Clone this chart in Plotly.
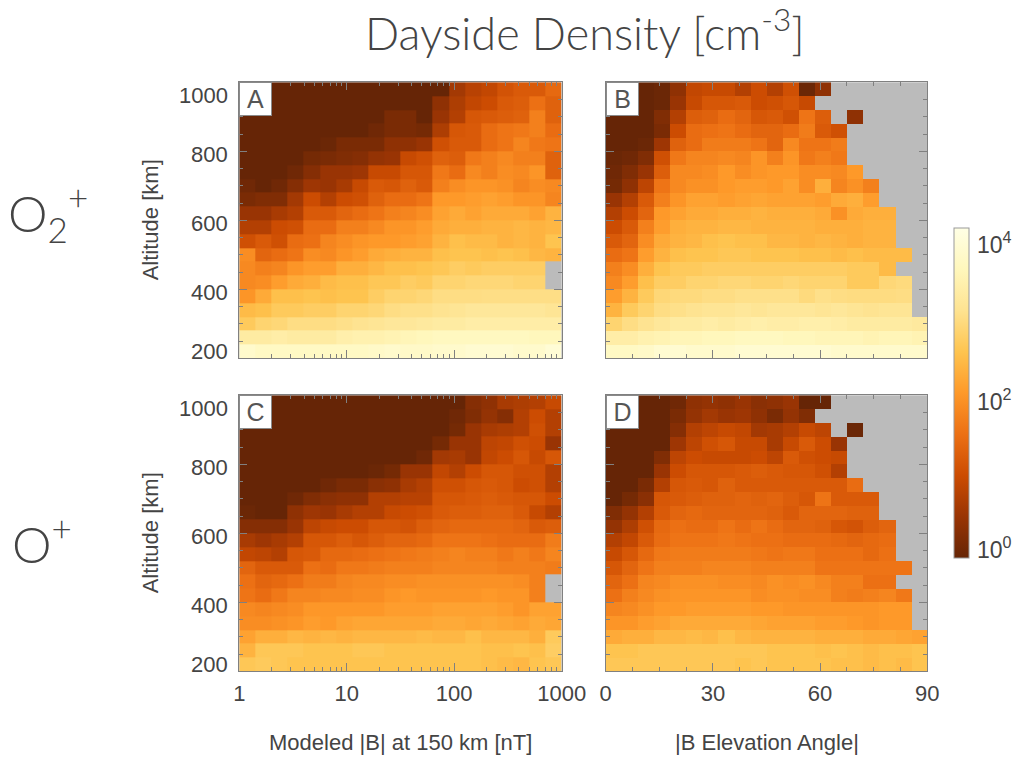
import plotly.graph_objects as go
from plotly.colors import sequential

N = None  # empty bin (no samples)

# ---- bin edges -------------------------------------------------------------
alt_edges = [200, 240, 280, 320, 360, 400, 440, 480, 520, 560, 600,
             640, 680, 720, 760, 800, 840, 880, 920, 960, 1000]
b_edges = [1.0, 1.413, 1.995, 2.818, 3.981, 5.623, 7.943, 11.22, 15.85, 22.39, 31.62,
           44.67, 63.10, 89.13, 125.9, 177.8, 251.2, 354.8, 501.2, 707.9, 1000.0]
ang_edges = [0, 4.5, 9, 13.5, 18, 22.5, 27, 31.5, 36, 40.5, 45,
             49.5, 54, 58.5, 63, 67.5, 72, 76.5, 81, 85.5, 90]

# ---- log10 density [cm^-3]; rows listed from 1000 km down to 200 km -------
o2_vs_b = [
    [0, 0, 0, 0, 0, 0, 0, 0, 0, 0, 0, 0, 0, 0.6, 0.8, 0.9, 1.1, 1.2, 1.2, 1.4],
    [0, 0, 0, 0, 0, 0, 0, 0, 0, 0, 0, 0, 0.4, 0.7, 0.9, 1.0, 1.2, 1.25, 1.5, 1.3],
    [0, 0, 0, 0, 0, 0, 0, 0, 0, 0.2, 0.2, 0, 0.5, 0.75, 1.15, 1.2, 1.25, 1.3, 1.7, 1.3],
    [0, 0, 0, 0, 0, 0, 0, 0, 0.1, 0.2, 0.2, 0.15, 0.7, 1.15, 1.2, 1.45, 1.55, 1.6, 1.7, 1.45],
    [0, 0, 0, 0, 0, 0.05, 0.2, 0.2, 0.2, 0.4, 0.4, 0.5, 1.05, 1.2, 1.2, 1.45, 1.55, 1.75, 1.6, 1.55],
    [0, 0, 0, 0, 0.15, 0.2, 0.25, 0.3, 0.45, 0.5, 0.95, 1.05, 1.3, 1.25, 1.6, 1.7, 1.8, 1.7, 1.7, 1.3],
    [0, 0, 0, 0.1, 0.3, 0.5, 0.5, 0.55, 0.95, 0.95, 1.15, 1.15, 1.6, 1.45, 1.8, 1.7, 1.85, 1.8, 1.95, 1.3],
    [0.1, 0, 0.1, 0.3, 0.55, 0.5, 0.65, 0.95, 1.2, 1.15, 1.3, 1.2, 1.7, 1.85, 1.95, 1.95, 1.9, 1.75, 1.85, 1.8],
    [0.2, 0.25, 0.25, 0.6, 1.0, 0.75, 1.0, 1.05, 1.3, 1.45, 1.45, 1.55, 2.0, 2.0, 2.05, 2.1, 2.05, 1.95, 1.95, 1.75],
    [0.5, 0.5, 0.65, 0.75, 1.2, 1.2, 1.35, 1.45, 1.55, 1.7, 1.75, 1.85, 2.1, 2.2, 2.1, 2.2, 2.2, 2.2, 2.1, 2.3],
    [0.75, 0.75, 1.0, 1.05, 1.45, 1.45, 1.7, 1.7, 1.8, 1.95, 1.95, 2.05, 2.2, 2.25, 2.25, 2.3, 2.3, 2.35, 2.3, 2.35],
    [1.05, 1.2, 1.05, 1.45, 1.5, 1.75, 1.85, 1.95, 2.0, 2.0, 2.05, 2.1, 2.3, 2.45, 2.4, 2.4, 2.3, 2.35, 2.3, 2.5],
    [1.85, 1.35, 1.45, 1.55, 1.85, 1.8, 1.95, 2.05, 2.2, 2.25, 2.3, 2.3, 2.45, 2.5, 2.5, 2.45, 2.5, 2.45, 2.35, 2.3],
    [1.8, 1.7, 1.75, 1.95, 2.05, 2.05, 2.25, 2.25, 2.35, 2.45, 2.45, 2.5, 2.55, 2.65, 2.6, 2.65, 2.65, 2.65, 2.65, N],
    [1.8, 1.85, 2.05, 2.2, 2.25, 2.4, 2.45, 2.45, 2.55, 2.55, 2.65, 2.6, 2.75, 2.75, 2.8, 2.8, 2.8, 2.75, 2.75, N],
    [1.95, 2.2, 2.45, 2.45, 2.5, 2.45, 2.5, 2.5, 2.65, 2.75, 2.75, 2.8, 2.9, 2.9, 2.9, 2.92, 2.92, 2.92, 2.92, 2.92],
    [2.4, 2.45, 2.6, 2.6, 2.65, 2.65, 2.75, 2.75, 2.8, 2.9, 2.95, 2.95, 3.0, 3.05, 3.1, 3.1, 3.1, 3.1, 3.1, 3.05],
    [2.6, 2.75, 2.8, 2.9, 2.9, 2.9, 2.95, 3.0, 3.05, 3.1, 3.1, 3.15, 3.2, 3.2, 3.25, 3.25, 3.25, 3.25, 3.25, 3.25],
    [3.2, 3.2, 3.25, 3.2, 3.2, 3.2, 3.3, 3.35, 3.35, 3.4, 3.45, 3.5, 3.55, 3.55, 3.55, 3.55, 3.55, 3.55, 3.5, 3.5],
    [3.7, 3.6, 3.6, 3.6, 3.6, 3.6, 3.6, 3.6, 3.65, 3.7, 3.65, 3.65, 3.7, 3.7, 3.75, 3.75, 3.75, 3.7, 3.7, 3.8],
]

o2_vs_angle = [
    [0, 0, 0, 0.05, 0.4, 0.9, 0.95, 0.95, 0.75, 1.0, 0.75, 1.05, 0.05, 0.4, N, N, N, N, N, N],
    [0, 0, 0, 0.05, 0.5, 0.95, 1.15, 1.15, 1.2, 1.0, 1.05, 1.15, 0.95, N, N, N, N, N, N, N],
    [0, 0, 0, 0.25, 0.75, 1.25, 1.3, 1.45, 1.35, 1.15, 1.2, 1.05, 1.55, 1.25, N, 0.4, N, N, N, N],
    [0, 0, 0, 0.2, 1.0, 1.45, 1.5, 1.55, 1.45, 1.35, 1.35, 1.45, 1.65, 1.2, 1.05, N, N, N, N, N],
    [0, 0, 0.05, 0.55, 1.3, 1.45, 1.65, 1.65, 1.65, 1.55, 1.35, 1.8, 1.55, 1.55, 1.65, N, N, N, N, N],
    [0.05, 0.1, 0.25, 1.05, 1.6, 1.75, 1.75, 1.8, 1.75, 1.95, 1.7, 1.95, 1.6, 1.7, 1.6, N, N, N, N, N],
    [0.1, 0.25, 0.5, 1.25, 1.8, 1.8, 1.85, 2.0, 1.85, 1.95, 2.0, 2.0, 1.85, 1.85, 1.8, 2.0, N, N, N, N],
    [0.15, 0.4, 0.85, 1.55, 1.8, 1.9, 1.9, 2.0, 2.05, 2.05, 2.0, 2.1, 1.85, 2.25, 1.75, 1.9, 1.7, N, N, N],
    [0.5, 0.75, 1.2, 1.7, 1.95, 2.1, 2.1, 2.05, 2.1, 2.15, 2.1, 2.1, 2.1, 2.05, 2.2, 2.25, 2.05, N, N, N],
    [0.75, 1.0, 1.35, 2.0, 2.1, 2.2, 2.2, 2.25, 2.25, 2.3, 2.25, 2.25, 2.25, 2.2, 1.9, 2.2, 2.25, 2.25, N, N],
    [1.0, 1.2, 1.7, 2.05, 2.25, 2.3, 2.3, 2.35, 2.35, 2.3, 2.3, 2.3, 2.3, 2.25, 2.25, 2.25, 2.3, 2.3, N, N],
    [1.2, 1.35, 1.85, 2.2, 2.3, 2.35, 2.45, 2.5, 2.45, 2.45, 2.35, 2.35, 2.3, 2.35, 2.3, 2.25, 2.3, 2.3, N, N],
    [1.45, 1.55, 2.05, 2.3, 2.45, 2.5, 2.5, 2.55, 2.55, 2.5, 2.5, 2.5, 2.45, 2.45, 2.4, 2.45, 2.4, 2.4, 2.4, N],
    [1.7, 1.85, 2.25, 2.5, 2.6, 2.6, 2.65, 2.65, 2.65, 2.65, 2.65, 2.65, 2.65, 2.65, 2.65, 2.6, 2.6, 2.4, N, N],
    [1.8, 2.05, 2.45, 2.65, 2.65, 2.75, 2.75, 2.8, 2.8, 2.75, 2.75, 2.8, 2.75, 2.75, 2.75, 2.6, 2.6, 2.8, 2.85, N],
    [2.05, 2.3, 2.6, 2.8, 2.85, 2.85, 2.9, 2.9, 2.95, 2.95, 2.95, 2.95, 2.85, 2.95, 2.9, 2.88, 2.88, 2.88, 2.9, N],
    [2.3, 2.6, 2.75, 2.9, 2.95, 3.0, 3.05, 3.05, 3.1, 3.05, 3.1, 3.1, 3.1, 3.05, 3.1, 3.05, 3.0, 3.05, 3.05, N],
    [2.75, 2.9, 3.0, 3.1, 3.2, 3.2, 3.25, 3.2, 3.25, 3.3, 3.25, 3.25, 3.3, 3.3, 3.25, 3.2, 3.2, 3.2, 3.2, 3.15],
    [3.25, 3.25, 3.35, 3.4, 3.45, 3.45, 3.5, 3.5, 3.55, 3.55, 3.55, 3.5, 3.5, 3.45, 3.45, 3.45, 3.4, 3.45, 3.45, 3.4],
    [3.6, 3.6, 3.65, 3.75, 3.75, 3.7, 3.7, 3.7, 3.75, 3.75, 3.75, 3.75, 3.75, 3.75, 3.7, 3.7, 3.7, 3.7, 3.7, 3.7],
]

o_vs_b = [
    [0, 0, 0, 0, 0, 0, 0, 0, 0, 0, 0, 0, 0, 0, 0.3, 0.4, 0.65, 0.7, 0.75, 0.95],
    [0, 0, 0, 0, 0, 0, 0, 0, 0, 0, 0, 0, 0, 0.1, 0.25, 0.45, 0.3, 0.75, 1.0, 0.75],
    [0, 0, 0, 0, 0, 0, 0, 0, 0, 0, 0, 0, 0, 0.15, 0.5, 0.65, 0.7, 0.75, 1.05, 0.75],
    [0, 0, 0, 0, 0, 0, 0, 0, 0, 0, 0, 0, 0.15, 0.5, 0.5, 0.85, 0.9, 1.05, 1.0, 0.5],
    [0, 0, 0, 0, 0, 0, 0, 0, 0, 0, 0, 0.1, 0.6, 0.65, 0.5, 0.9, 1.0, 1.15, 0.95, 1.15],
    [0, 0, 0, 0, 0, 0, 0, 0, 0.05, 0.15, 0.5, 0.5, 0.9, 0.75, 1.0, 1.15, 1.15, 1.05, 1.05, 0.75],
    [0, 0, 0, 0, 0, 0.1, 0.2, 0.2, 0.35, 0.4, 0.65, 0.75, 1.05, 1.05, 1.15, 1.2, 1.15, 1.0, 1.05, 0.75],
    [0, 0, 0, 0.1, 0.25, 0.35, 0.4, 0.4, 0.75, 0.75, 0.8, 0.8, 1.15, 1.15, 1.2, 1.25, 1.2, 1.15, 1.15, 1.0],
    [0.05, 0, 0, 0.4, 0.55, 0.5, 0.65, 0.75, 0.75, 0.95, 1.0, 1.05, 1.2, 1.25, 1.25, 1.3, 1.3, 1.2, 0.95, 0.75],
    [0.3, 0.3, 0.3, 0.5, 0.85, 0.95, 1.0, 1.0, 1.15, 1.15, 1.1, 1.25, 1.35, 1.4, 1.4, 1.4, 1.4, 1.35, 1.2, 1.25],
    [0.65, 0.55, 0.65, 0.75, 1.15, 1.15, 1.25, 1.15, 1.25, 1.35, 1.35, 1.4, 1.55, 1.55, 1.55, 1.5, 1.45, 1.45, 1.45, 1.65],
    [0.9, 0.85, 0.75, 1.15, 1.2, 1.4, 1.4, 1.45, 1.5, 1.55, 1.6, 1.65, 1.7, 1.75, 1.7, 1.7, 1.6, 1.7, 1.6, 1.75],
    [1.35, 1.2, 1.2, 1.2, 1.5, 1.45, 1.6, 1.6, 1.65, 1.7, 1.7, 1.7, 1.75, 1.75, 1.75, 1.75, 1.7, 1.7, 1.7, 1.65],
    [1.5, 1.35, 1.4, 1.5, 1.65, 1.65, 1.75, 1.8, 1.8, 1.85, 1.85, 1.9, 1.9, 1.9, 1.9, 1.9, 1.9, 1.85, 1.7, N],
    [1.55, 1.45, 1.6, 1.75, 1.75, 1.8, 1.8, 1.85, 1.85, 1.95, 2.0, 1.95, 1.95, 1.95, 1.95, 2.0, 1.95, 1.95, 1.7, N],
    [1.8, 1.75, 1.8, 1.85, 1.98, 1.98, 1.98, 1.98, 1.98, 2.05, 2.05, 2.05, 2.1, 2.1, 2.1, 2.1, 2.05, 1.95, 2.1, 2.1],
    [1.85, 1.85, 1.9, 1.95, 2.05, 2.0, 2.1, 2.15, 2.15, 2.15, 2.15, 2.15, 2.2, 2.2, 2.15, 2.2, 2.15, 2.1, 2.2, 2.15],
    [2.1, 2.25, 2.25, 2.35, 2.3, 2.35, 2.3, 2.35, 2.35, 2.35, 2.35, 2.4, 2.35, 2.35, 2.45, 2.35, 2.35, 2.35, 2.25, 2.6],
    [2.3, 2.55, 2.55, 2.55, 2.5, 2.5, 2.5, 2.55, 2.55, 2.5, 2.5, 2.5, 2.5, 2.5, 2.5, 2.45, 2.45, 2.5, 2.45, 2.65],
    [2.55, 2.6, 2.55, 2.5, 2.5, 2.5, 2.5, 2.5, 2.5, 2.5, 2.5, 2.5, 2.5, 2.5, 2.5, 2.45, 2.4, 2.35, 2.5, 2.55],
]

o_vs_angle = [
    [0, 0, 0, 0, 0.1, 0.4, 0.45, 0.4, 0.5, 0.35, 0.4, 0.5, 0, 0, N, N, N, N, N, N],
    [0, 0, 0, 0, 0.2, 0.45, 0.6, 0.5, 0.55, 0.4, 0.2, 0.45, 0.25, N, N, N, N, N, N, N],
    [0, 0, 0, 0, 0.3, 0.75, 0.85, 0.95, 0.9, 0.6, 0.65, 0.75, 0.95, 0.85, N, 0.05, N, N, N, N],
    [0, 0, 0, 0, 0.55, 0.85, 1.05, 1.15, 0.95, 0.95, 0.65, 0.95, 1.2, 1.0, 0.5, N, N, N, N, N],
    [0, 0, 0, 0.25, 0.85, 1.0, 0.95, 0.95, 0.95, 1.0, 0.85, 1.2, 1.05, 1.0, 0.95, N, N, N, N, N],
    [0, 0, 0, 0.5, 1.0, 1.15, 1.15, 1.15, 1.2, 1.25, 1.2, 1.15, 1.15, 1.05, 0.75, N, N, N, N, N],
    [0, 0, 0.2, 0.75, 1.15, 1.2, 1.15, 1.3, 1.2, 1.2, 1.2, 1.2, 1.2, 1.2, 1.2, 1.45, N, N, N, N],
    [0, 0.15, 0.35, 1.15, 1.2, 1.25, 1.3, 1.3, 1.35, 1.3, 1.35, 1.25, 1.15, 1.55, 1.2, 1.2, 1.2, N, N, N],
    [0.25, 0.45, 0.75, 1.2, 1.35, 1.4, 1.35, 1.35, 1.35, 1.35, 1.3, 1.2, 1.35, 1.35, 1.35, 1.3, 1.3, N, N, N],
    [0.45, 0.7, 1.05, 1.4, 1.5, 1.45, 1.45, 1.55, 1.45, 1.55, 1.45, 1.35, 1.35, 1.3, 1.15, 1.1, 1.25, 1.35, N, N],
    [0.75, 0.9, 1.2, 1.45, 1.55, 1.55, 1.55, 1.6, 1.55, 1.5, 1.5, 1.45, 1.45, 1.45, 1.4, 1.35, 1.4, 1.45, N, N],
    [0.95, 1.15, 1.4, 1.6, 1.65, 1.65, 1.65, 1.65, 1.65, 1.6, 1.55, 1.6, 1.6, 1.5, 1.5, 1.5, 1.4, 1.5, N, N],
    [1.15, 1.35, 1.55, 1.7, 1.7, 1.7, 1.75, 1.75, 1.75, 1.7, 1.7, 1.7, 1.7, 1.55, 1.55, 1.55, 1.55, 1.55, 1.55, N],
    [1.35, 1.5, 1.75, 1.8, 1.9, 1.9, 1.9, 1.85, 1.85, 1.8, 1.9, 1.85, 1.9, 1.8, 1.7, 1.7, 1.5, 1.5, N, N],
    [1.5, 1.7, 1.8, 1.9, 1.95, 1.95, 1.95, 1.95, 1.95, 1.85, 1.9, 1.9, 1.85, 1.85, 1.7, 1.65, 1.7, 1.75, 1.6, N],
    [1.75, 1.8, 1.9, 2.0, 2.0, 2.05, 2.05, 2.05, 2.05, 2.0, 2.0, 1.95, 1.95, 1.95, 1.95, 1.95, 1.95, 2.0, 2.0, N],
    [1.95, 1.95, 2.05, 2.1, 2.2, 2.2, 2.2, 2.2, 2.2, 2.15, 2.1, 2.1, 2.1, 2.05, 2.05, 2.0, 1.95, 2.0, 2.0, N],
    [2.2, 2.25, 2.25, 2.35, 2.35, 2.4, 2.35, 2.45, 2.35, 2.3, 2.3, 2.3, 2.3, 2.25, 2.25, 2.25, 2.2, 2.2, 2.15, 2.1],
    [2.5, 2.5, 2.55, 2.55, 2.55, 2.55, 2.55, 2.55, 2.55, 2.55, 2.5, 2.5, 2.5, 2.45, 2.5, 2.45, 2.4, 2.45, 2.45, 2.5],
    [2.55, 2.55, 2.55, 2.55, 2.55, 2.55, 2.55, 2.55, 2.5, 2.55, 2.5, 2.5, 2.5, 2.5, 2.45, 2.45, 2.4, 2.45, 2.4, 2.5],
]

panel_letters = ["A", "B", "C", "D"]
ion_labels = ["O<sub>2</sub><sup>+</sup>", "O<sup>+</sup>"]
b_ticks = [1, 10, 100, 1000]
b_minor = [m * d for d in (1, 10, 100) for m in range(2, 10)]
ang_ticks = [0, 30, 60, 90]
ang_minor = [7.5 * k for k in range(1, 12) if (7.5 * k) % 30]
alt_ticks = [200, 400, 600, 800, 1000]
alt_minor = [a for a in range(250, 1000, 50) if a % 200]
cbar_ticks = [0, 2, 4]

# ---- layout geometry (pixels in a 1023 x 757 page) -------------------------
W, H = 1023, 757
col_px = [(239.3, 561.7), (605.7, 927.3)]
row_px = [(82.3, 358.3), (395.3, 671.3)]

def xdom(c):
    return [col_px[c][0] / W, col_px[c][1] / W]

def ydom(r):
    return [1 - row_px[r][1] / H, 1 - row_px[r][0] / H]

FONT = "Liberation Sans, Arial, sans-serif"
THIN = "Lato, Open Sans, sans-serif"
INK = "#444444"
FRAME = "#808080"

colorscale = [[i / 8, c] for i, c in enumerate(sequential.YlOrBr[::-1])]

fig = go.Figure()
grids = [(o2_vs_b, b_edges), (o2_vs_angle, ang_edges),
         (o_vs_b, b_edges), (o_vs_angle, ang_edges)]
for k, (z, xe) in enumerate(grids):
    fig.add_trace(go.Heatmap(
        z=z[::-1], x=xe, y=alt_edges,
        coloraxis="coloraxis",
        xaxis="x" if k == 0 else f"x{k + 1}",
        yaxis="y" if k == 0 else f"y{k + 1}",
        hoverongaps=False,
    ))

axis_common = dict(showgrid=False, zeroline=False, showline=True, linecolor=FRAME,
                   linewidth=1, mirror="ticks", ticks="inside", tickcolor=FRAME,
                   tickwidth=1, layer="above traces",
                   tickfont=dict(family=FONT, size=22, color=INK))

layout_axes = {}
for k in range(4):
    r, c = divmod(k, 2)
    sx = "" if k == 0 else str(k + 1)
    if c == 0:
        xa = dict(type="log", range=[0, 3], tickmode="array", tickvals=b_ticks,
                  ticktext=[str(v) for v in b_ticks], ticklen=8,
                  minor=dict(tickmode="array", tickvals=b_minor, ticks="inside",
                             ticklen=4, tickcolor=FRAME, showgrid=False))
    else:
        xa = dict(range=[0, 90], tickmode="array", tickvals=ang_ticks,
                  ticktext=[str(v) for v in ang_ticks], ticklen=8,
                  minor=dict(tickmode="array", tickvals=ang_minor, ticks="inside",
                             ticklen=4, tickcolor=FRAME, showgrid=False))
    xa.update(axis_common)
    xa.update(domain=xdom(c), anchor="y" + sx, showticklabels=(r == 1),
              ticklabelstandoff=2)
    ya = dict(range=[200, 1000], tickmode="array", tickvals=alt_ticks, ticklen=8,
              showticklabels=False,
              minor=dict(tickmode="array", tickvals=alt_minor, ticks="inside",
                         ticklen=4, tickcolor=FRAME, showgrid=False))
    ya.update(axis_common)
    ya.update(domain=ydom(r), anchor="x" + sx)
    layout_axes["xaxis" + sx] = xa
    layout_axes["yaxis" + sx] = ya

fig.update_layout(**layout_axes)

annotations = []

# altitude tick labels (edge labels pulled inside the frame)
label_shift = {1000: -12.7, 200: 7.3}
for r in range(2):
    yref = "y" if r == 0 else "y3"
    for a in alt_ticks:
        annotations.append(dict(
            x=230 / W, xref="paper", y=a, yref=yref, xanchor="right", yanchor="middle",
            yshift=label_shift.get(a, -3.5), text=str(a), showarrow=False,
            font=dict(family=FONT, size=22, color=INK)))
    annotations.append(dict(
        x=150 / W, xref="paper", y=(ydom(r)[0] + ydom(r)[1]) / 2, yref="paper",
        text="Altitude [km]", textangle=-90, showarrow=False,
        xanchor="center", yanchor="middle",
        font=dict(family=FONT, size=22, color=INK)))

# panel letters
for k, letter in enumerate(panel_letters):
    r, c = divmod(k, 2)
    annotations.append(dict(
        x=xdom(c)[0], y=ydom(r)[1], xref="paper", yref="paper",
        xanchor="left", yanchor="top", text=letter, showarrow=False,
        width=31, height=32, borderpad=0, bgcolor="white",
        bordercolor="#8a8a8a", borderwidth=1, align="center", valign="middle",
        font=dict(family=FONT, size=25, color="#555555")))

# x-axis titles
for c, title in enumerate(["Modeled |B| at 150 km [nT]", "|B Elevation Angle|"]):
    annotations.append(dict(
        x=(xdom(c)[0] + xdom(c)[1]) / 2, y=1 - 742 / H, xref="paper", yref="paper",
        text=title, showarrow=False, xanchor="center", yanchor="middle",
        font=dict(family=FONT, size=22, color=INK)))

# ion labels for each row
for r, (lab, xc) in enumerate(zip(ion_labels, [48, 42])):
    annotations.append(dict(
        x=xc / W, y=(ydom(r)[0] + ydom(r)[1]) / 2 + (0.01 if r == 0 else -0.01),
        xref="paper", yref="paper", text=lab, showarrow=False,
        xanchor="center", yanchor="middle",
        font=dict(family=THIN, size=50, color=INK, weight=300)))

# colorbar tick labels
cb_top, cb_bot = 228, 558
cb_label_px = {4: 243, 2: 400, 0: 548}
for v in cbar_ticks:
    annotations.append(dict(
        x=975 / W, y=1 - cb_label_px[v] / H, xref="paper", yref="paper",
        text=f"10<sup>{v}</sup>", showarrow=False, xanchor="left", yanchor="middle",
        font=dict(family=FONT, size=23, color=INK)))

# figure title
annotations.append(dict(
    x=585 / W, y=1 - 30 / H, xref="paper", yref="paper",
    text="Dayside Density [cm<sup>-3</sup>]", showarrow=False,
    xanchor="center", yanchor="middle",
    font=dict(family=THIN, size=45, color=INK, weight=300)))

fig.update_layout(
    width=W, height=H,
    margin=dict(l=0, r=0, t=0, b=0, autoexpand=False),
    paper_bgcolor="white",
    plot_bgcolor="#bbbbbb",
    showlegend=False,
    annotations=annotations,
    coloraxis=dict(
        colorscale=colorscale, cmin=0, cmax=4,
        colorbar=dict(
            x=954 / W, xanchor="left", thickness=15, thicknessmode="pixels",
            len=(cb_bot - cb_top) / H, lenmode="fraction",
            y=1 - (cb_top + cb_bot) / 2 / H, yanchor="middle",
            outlinewidth=1, outlinecolor="#999999",
            showticklabels=False, ticks="", xpad=0, ypad=0,
        ),
    ),
)

fig.write_html("out.html")
